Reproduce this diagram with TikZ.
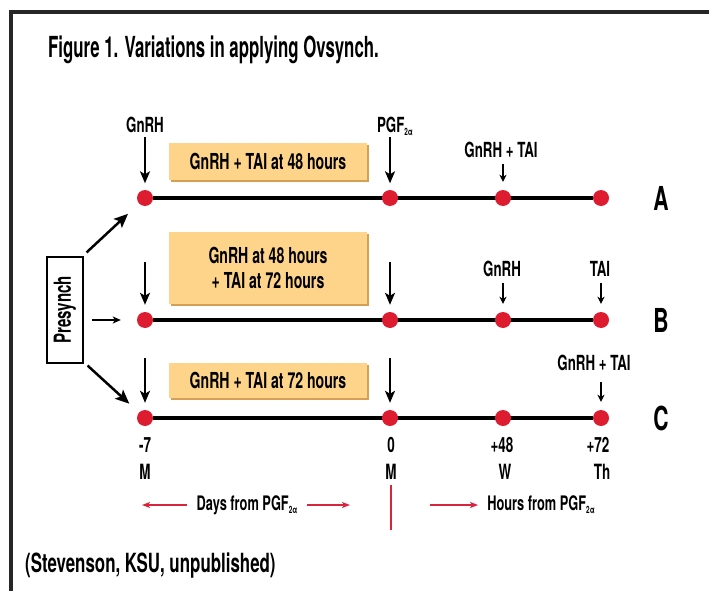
\documentclass[tikz,border=0pt]{standalone}
\usepackage{fontspec}
\setmainfont{TeX Gyre Heros}[FakeStretch=0.64]
\newfontfamily\titlefont{TeX Gyre Heros}[FakeStretch=0.58]
\usetikzlibrary{arrows.meta,positioning,backgrounds,shadows}

\definecolor{dotred}{RGB}{222,28,48}
\definecolor{boxfill}{RGB}{253,212,138}
\definecolor{boxedge}{RGB}{214,160,84}
\definecolor{linered}{RGB}{216,36,60}
\definecolor{framegray}{RGB}{38,38,38}

\newcommand\lowsub[1]{\raisebox{-3pt}{\fontsize{10}{10}\selectfont #1}}

\begin{document}
\begin{tikzpicture}[x=1pt,y=-1pt,
    dot/.style={circle,fill=dotred,minimum size=16pt,inner sep=0pt},
    tline/.style={line width=4.5pt},
    lab/.style={font=\fontsize{20.8}{22}\selectfont\bfseries,inner sep=2pt,text depth=0pt},
    daylab/.style={font=\fontsize{21}{22}\selectfont\bfseries,inner sep=0pt,text depth=0pt},
    rowlab/.style={font=\fontsize{33}{33}\selectfont\bfseries,inner sep=0pt,text depth=0pt},
    unitlab/.style={font=\fontsize{20}{22}\selectfont\bfseries,inner sep=3pt,text depth=0pt},
    hbox/.style={fill=boxfill,minimum width=198pt,inner sep=0pt,align=center,
        font=\fontsize{22}{25}\selectfont\bfseries,
        drop shadow={shadow xshift=1.5pt,shadow yshift=-1.5pt,fill=boxedge,opacity=1}},
    presbox/.style={draw,line width=1.2pt,minimum width=36pt,minimum height=106pt,
        inner sep=0pt,font=\fontsize{23.5}{24}\selectfont\bfseries},
    bigarr/.style={line width=2pt,-{Stealth[length=12pt,width=10pt,inset=3pt]},
        shorten <=3pt,shorten >=7pt},
    smallarr/.style={line width=1.2pt,-{Stealth[length=7pt,width=7pt,inset=2pt]},
        shorten <=4pt,shorten >=8pt},
    prethick/.style={line width=2.5pt,-{Stealth[length=14pt,width=12pt,inset=3pt]}},
    prethin/.style={line width=1.2pt,-{Stealth[length=8pt,width=7pt,inset=2pt]}},
    redarr/.style={linered,line width=1.3pt,-{Stealth[length=8pt,width=6pt,inset=2pt]}},
    redbar/.style={linered,line width=2pt}]

    \useasboundingbox (0,0) rectangle (709,591);
    \draw[framegray,line width=3.5pt] (11,591) -- (11,12) -- (709,12);

    % titles
    \node[anchor=base west,inner sep=0pt,font=\titlefont\fontsize{29}{30}\selectfont\bfseries]
        (title) at (48,58) {Figure 1. Variations in applying Ovsynch.};
    \node[anchor=base west,inner sep=0pt,font=\fontsize{26.4}{28}\selectfont\bfseries]
        (source) at (25,572) {(Stevenson, KSU, unpublished)};

    % the three schedules
    \node[dot] (a1) at (145,198) {};
    \node[dot] (a2) at (390,198) {};
    \node[dot] (a3) at (503,198) {};
    \node[dot] (a4) at (601,198) {};
    \node[dot] (b1) at (145,320) {};
    \node[dot] (b2) at (390,320) {};
    \node[dot] (b3) at (503,320) {};
    \node[dot] (b4) at (601,320) {};
    \node[dot] (c1) at (145,418) {};
    \node[dot] (c2) at (390,418) {};
    \node[dot] (c3) at (503,418) {};
    \node[dot] (c4) at (601,418) {};
    \begin{scope}[on background layer]
        \draw[tline] (a1) -- (a4);
        \draw[tline] (b1) -- (b4);
        \draw[tline] (c1) -- (c4);
    \end{scope}
    \node[rowlab] (rowA) at (661,198) {A};
    \node[rowlab] (rowB) at (661,320) {B};
    \node[rowlab] (rowC) at (661,418) {C};

    % schedule A
    \node[lab] (gnrhA) at (145,124.5) {GnRH};
    \node[lab] (pgfA) at (395,124.5) {PGF\lowsub{2α}};
    \node[lab] (gtaiA) at (501,150) {GnRH + TAI};
    \node[hbox,minimum height=37pt] (boxA) at (268,161.5) {GnRH + TAI at 48 hours};
    \draw[bigarr,shorten >=6.5pt] (gnrhA) -- (a1);
    \draw[bigarr,shorten >=6.5pt] (pgfA.south -| a2) -- (a2);
    \draw[smallarr] (gtaiA.south -| a3) -- (a3);

    % schedule B
    \coordinate (tb1) at (145,259);
    \coordinate (tb2) at (390,259);
    \node[lab] (gnrhB) at (502,269) {GnRH};
    \node[lab] (taiB) at (600,269) {TAI};
    \node[hbox,minimum height=72pt] (boxB) at (268,268) {GnRH at 48 hours\\+ TAI at 72 hours};
    \draw[bigarr] (tb1) -- (b1);
    \draw[bigarr] (tb2) -- (b2);
    \draw[smallarr,shorten <=4pt] (gnrhB.south -| b3) -- (b3);
    \draw[smallarr,shorten <=4pt] (taiB.south -| b4) -- (b4);

    % schedule C
    \coordinate (tc1) at (145,355);
    \coordinate (tc2) at (390,355);
    \node[lab] (gtaiC) at (594,363) {GnRH + TAI};
    \node[hbox,minimum height=35pt] (boxC) at (268,380.5) {GnRH + TAI at 72 hours};
    \draw[bigarr] (tc1) -- (c1);
    \draw[bigarr] (tc2) -- (c2);
    \draw[smallarr,shorten <=9pt] (gtaiC.south -| c4) -- (c4);

    % presynch
    \node[presbox] (pre) at (65,310) {\rotatebox{90}{Presynch}};
    \draw[prethick,shorten >=15pt] ([xshift=3pt,yshift=4pt]pre.north east) -- (a1);
    \draw[prethin,shorten <=8pt,shorten >=16pt] (pre.east |- b1) -- (b1);
    \draw[prethick,shorten >=13pt] ([xshift=4pt,yshift=-2pt]pre.south east) -- (c1);

    % days and hours
    \node[daylab] (d1) at (145,445) {-7};
    \node[daylab] (d2) at (391,445) {0};
    \node[daylab] (d3) at (502,445) {+48};
    \node[daylab] (d4) at (598,445) {+72};
    \node[daylab] (w1) at (145,472) {M};
    \node[daylab] (w2) at (391,472) {M};
    \node[daylab] (w3) at (505,472) {W};
    \node[daylab] (w4) at (602,472) {Th};

    \node[unitlab] (days) at (247,503) {Days from PGF\lowsub{2α}};
    \node[unitlab] (hours) at (541,503) {Hours from PGF\lowsub{2α}};
    \coordinate (dl) at (142,505);
    \coordinate (dr) at (350,505);
    \coordinate (hl) at (430,505);
    \coordinate (zt) at (391,485);
    \coordinate (zb) at (391,530);
    \draw[redarr,shorten <=6pt] (days.west |- dl) -- (dl);
    \draw[redarr,shorten <=6pt] (days.east |- dr) -- (dr);
    \draw[redarr,shorten >=6pt] (hl) -- (hours.west |- hl);
    \draw[redbar] (zt) -- (zb);
\end{tikzpicture}
\end{document}
